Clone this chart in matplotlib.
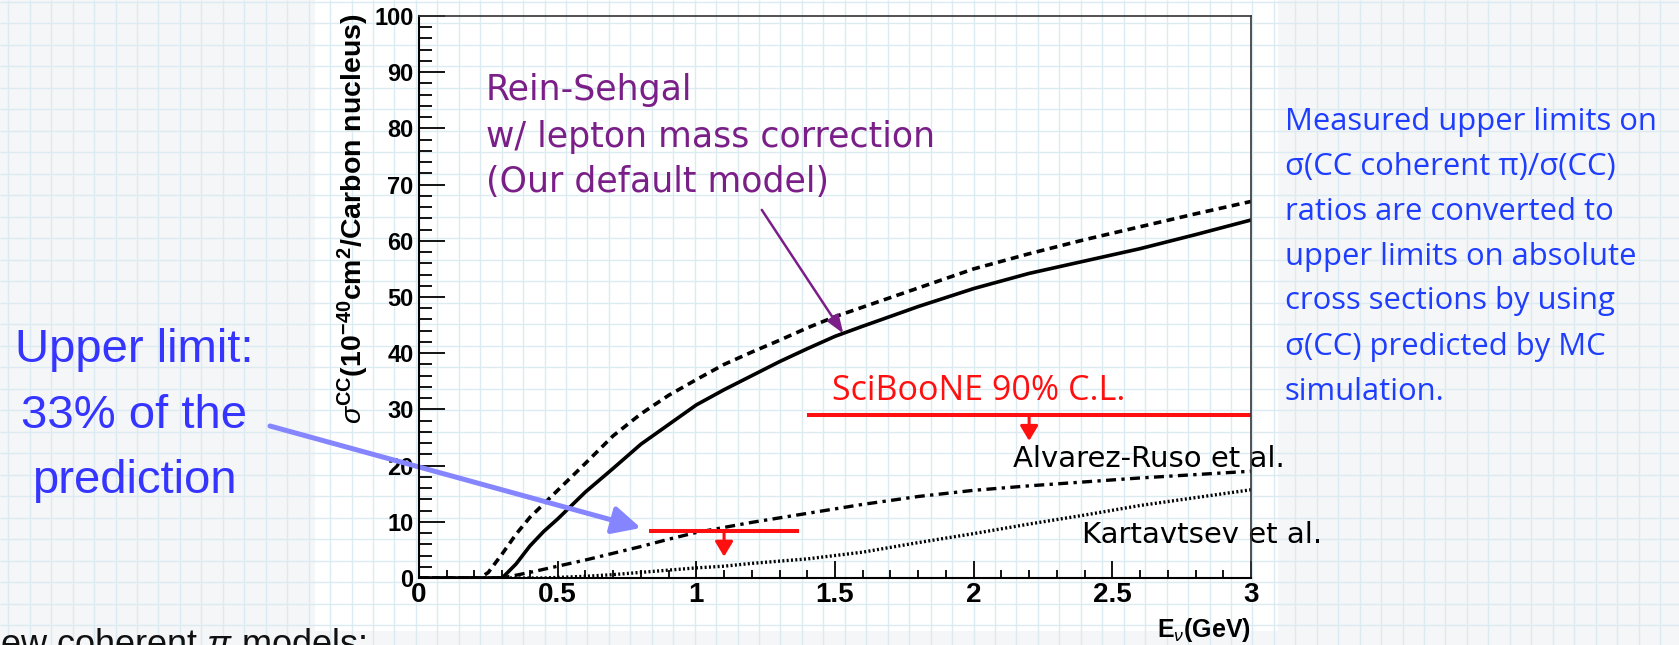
import numpy as np
import matplotlib
matplotlib.use("Agg")
import matplotlib.pyplot as plt
from matplotlib.patches import Rectangle

# CC coherent pi cross sections on carbon, 1e-40 cm^2 per nucleus vs E_nu (GeV)
rs_lepton_e = [0.0, 0.30, 0.35, 0.40, 0.45, 0.50, 0.55, 0.60, 0.70, 0.80, 0.90, 1.00, 1.10,
               1.20, 1.30, 1.40, 1.50, 1.60, 1.80, 2.00, 2.20, 2.40, 2.60, 2.80, 3.00]
rs_lepton_xs = [0, 0, 2.5, 5.7, 8.3, 10.5, 12.9, 15.3, 19.5, 23.8, 27.3, 30.8, 33.5,
                36.0, 38.5, 40.8, 43.0, 44.8, 48.3, 51.5, 54.2, 56.4, 58.6, 61.1, 63.7]

rs_e = [0.0, 0.22, 0.25, 0.30, 0.35, 0.40, 0.45, 0.50, 0.55, 0.60, 0.70, 0.80, 0.90, 1.00,
        1.10, 1.20, 1.30, 1.40, 1.50, 1.60, 1.80, 2.00, 2.20, 2.40, 2.60, 2.80, 3.00]
rs_xs = [0, 0, 1.0, 4.3, 7.8, 10.8, 13.2, 15.6, 18.0, 20.4, 25.3, 29.2, 32.5, 35.3,
         38.0, 40.2, 42.3, 44.5, 46.5, 48.2, 51.6, 55.0, 57.7, 60.2, 62.5, 64.8, 67.0]

alvarez_e = [0.0, 0.30, 0.40, 0.50, 0.60, 0.70, 0.80, 0.90, 1.00, 1.20, 1.40, 1.60, 1.80,
             2.00, 2.20, 2.40, 2.60, 2.80, 3.00]
alvarez_xs = [0, 0, 1.0, 2.1, 3.2, 4.4, 5.6, 6.9, 8.1, 9.9, 11.5, 13.1, 14.5,
              15.6, 16.4, 17.1, 17.8, 18.4, 19.0]

kartavtsev_e = [0.0, 0.45, 0.60, 0.70, 0.80, 0.90, 1.00, 1.10, 1.20, 1.40, 1.60, 1.80,
                2.00, 2.20, 2.40, 2.60, 2.80, 3.00]
kartavtsev_xs = [0, 0, 0.3, 0.6, 1.0, 1.4, 1.8, 2.1, 2.6, 3.4, 4.6, 6.3,
                 7.9, 9.6, 11.2, 12.9, 14.3, 15.7]

# SciBooNE 90% C.L. upper limits (two energy bins)
limit_e_lo = [0.83, 1.40]
limit_e_hi = [1.37, 3.00]
limit_xs = [8.4, 29.0]
limit_arrow_e = [1.10, 2.20]

x_ticks = [0, 0.5, 1, 1.5, 2, 2.5, 3]
x_tick_labels = ["0", "0.5", "1", "1.5", "2", "2.5", "3"]
y_ticks = [0, 10, 20, 30, 40, 50, 60, 70, 80, 90, 100]

model_lines = ["Rein-Sehgal", "w/ lepton mass correction", "(Our default model)"]
limit_note = ["Upper limit:", "33% of the", "prediction"]
side_note = ["Measured upper limits on",
             "\u03c3(CC coherent \u03c0)/\u03c3(CC)",
             "ratios are converted to",
             "upper limits on absolute",
             "cross sections by using",
             "\u03c3(CC) predicted by MC",
             "simulation."]

plt.rcParams["mathtext.fontset"] = "custom"
plt.rcParams["mathtext.rm"] = "Liberation Sans"
plt.rcParams["mathtext.it"] = "Liberation Sans:italic"
plt.rcParams["mathtext.bf"] = "Liberation Sans:bold"

W, H = 1679, 645
fig = plt.figure(figsize=(W / 100, H / 100), dpi=100)

# slide background: graph paper with a white panel behind the plot
bg = fig.add_axes([0, 0, 1, 1], zorder=-10)
bg.set_xlim(0, W)
bg.set_ylim(H, 0)
bg.axis("off")
bg.add_patch(Rectangle((0, 0), W, H, facecolor="#f4f6f7", edgecolor="none"))
bg.vlines(np.arange(8.3, W, 21.45), 0, H, color="#dcebf1", lw=1.0)
bg.hlines(np.arange(1.7, H, 21.5), 0, W, color="#dcebf1", lw=1.0)
bg.add_patch(Rectangle((315, 0), 963, 631, facecolor="white", edgecolor="none"))

ax = fig.add_axes([419 / W, 1 - 578 / H, 832 / W, 562 / H])
ax.set_facecolor("none")

ax.plot(rs_e, rs_xs, color="black", lw=2.6, ls=(0, (2.2, 1.5)))
ax.plot(rs_lepton_e, rs_lepton_xs, color="black", lw=2.6)
ax.plot(alvarez_e, alvarez_xs, color="black", lw=2.4, ls=(0, (3, 1.6, 1, 1.6)))
ax.plot(kartavtsev_e, kartavtsev_xs, color="black", lw=2.4, ls=(0, (0.6, 0.7)))

red = "#ff1010"
ax.hlines(limit_xs, limit_e_lo, limit_e_hi, color=red, lw=2.9, zorder=4)
for e, xs in zip(limit_arrow_e, limit_xs):
    ax.annotate("", xy=(e, xs - 4.6), xytext=(e, xs),
                arrowprops=dict(arrowstyle="-|>,head_length=0.45,head_width=0.27",
                                color=red, lw=2.2, shrinkA=0, shrinkB=0,
                                mutation_scale=20), zorder=4)

ax.set_xlim(0, 3)
ax.set_ylim(0, 100)
ax.set_xticks(x_ticks)
ax.set_xticklabels(x_tick_labels)
ax.set_yticks(y_ticks)
ax.xaxis.set_minor_locator(matplotlib.ticker.MultipleLocator(0.1))
ax.yaxis.set_minor_locator(matplotlib.ticker.MultipleLocator(2))
ax.tick_params(axis="y", which="major", direction="in", length=18.5, width=1.3, pad=4)
ax.tick_params(axis="y", which="minor", direction="in", length=9.3, width=1.3)
ax.tick_params(axis="x", which="major", direction="in", length=12, width=1.3, pad=3)
ax.tick_params(axis="x", which="minor", direction="in", length=5.8, width=1.3)
for lab in ax.get_xticklabels():
    lab.set_fontfamily("Liberation Sans")
    lab.set_fontweight("bold")
    lab.set_fontsize(20)
for lab in ax.get_yticklabels():
    lab.set_fontfamily("Liberation Sans")
    lab.set_fontweight("bold")
    lab.set_fontsize(17)
for side in ["left", "bottom"]:
    ax.spines[side].set_linewidth(1.5)
for side in ["top", "right"]:
    ax.spines[side].set_linewidth(1.2)
    ax.spines[side].set_color("#333333")
for sp in ax.spines.values():
    sp.set_zorder(10)

ax.text(-0.079, 1.005, r"$\sigma^{\mathbf{CC}}$(10$^{\mathbf{-40}}$cm$^{\mathbf{2}}$/Carbon nucleus)",
        transform=ax.transAxes, rotation=90, ha="center", va="top",
        fontsize=20.5, fontweight="bold", family="Liberation Sans")
ax.text(1.0, -0.093, r"E$_{\nu}$(GeV)", transform=ax.transAxes, ha="right", va="center",
        fontsize=18, fontweight="bold", family="Liberation Sans")

# model labels
purple = "#7b1f88"
for line, y in zip(model_lines, [85.0, 76.7, 68.7]):
    ax.text(0.2416, y, line, color=purple, fontsize=25, family="DejaVu Sans", va="baseline")
ax.annotate("", xy=(1.53, 43.5), xytext=(1.236, 65.5),
            arrowprops=dict(arrowstyle="-|>,head_length=0.55,head_width=0.2",
                            color=purple, lw=1.8, shrinkA=0, shrinkB=0, mutation_scale=20))

ax.text(1.489, 31.7, "SciBooNE 90% C.L.", color=red, fontsize=24.5,
        family=["Open Sans", "DejaVu Sans"], va="baseline")
ax.text(2.142, 19.75, "Alvarez-Ruso et al.", fontsize=21, family="DejaVu Sans",
        va="baseline", zorder=2, clip_on=False)
ax.text(2.391, 6.23, "Kartavtsev et al.", fontsize=21, family="DejaVu Sans",
        va="baseline", zorder=2, clip_on=False)

# notes on the slide
blue = "#3535ff"
for line, y in zip(limit_note, [362, 428, 493]):
    bg.text(134, y, line, color=blue, fontsize=34, family="Liberation Sans",
            ha="center", va="baseline")
arrow = ax.annotate("", xy=(0.80, 8.9), xycoords="data", xytext=(270, 426),
                    textcoords=bg.transData, annotation_clip=False,
                    arrowprops=dict(arrowstyle="-|>,head_length=0.85,head_width=0.42",
                                    color="#8585ff", lw=3.6, shrinkA=0, shrinkB=0,
                                    mutation_scale=20))
arrow.arrow_patch.set_clip_on(False)

for line, y in zip(side_note, [130, 175, 220, 265, 309, 355, 400]):
    bg.text(1285, y, line, color="#1f3dff", fontsize=22.3,
            family=["Open Sans", "DejaVu Sans"], va="baseline")

bg.text(0, 655, r"ew coherent $\pi$ models:", fontsize=26, family="Liberation Sans",
        va="baseline", color="#111111")

fig.savefig("out.png", dpi=100)
